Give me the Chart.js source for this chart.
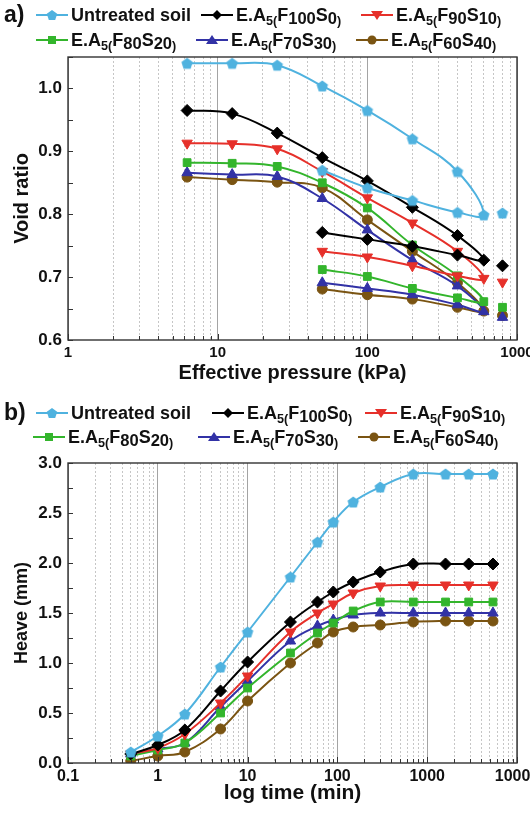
<!DOCTYPE html>
<html>
<head>
<meta charset="utf-8">
<script src="https://cdn.jsdelivr.net/npm/chart.js@4.4.0/dist/chart.umd.min.js"></script>
<style>
  body { margin: 0; background: #fff; font-family: 'Liberation Sans', Arial, sans-serif; }
  #wrap { position: relative; width: 530px; height: 817px; overflow: hidden; }
  canvas { position: absolute; left: 0; }
  .tag { position: absolute; font-weight: bold; font-size: 23px; color: #111; z-index: 2; }
  .leg { position: absolute; z-index: 2; display: flex; align-items: center; white-space: nowrap;
         font-weight: bold; font-size: 18px; color: #111; height: 22px; }
  .leg svg { margin-right: 3px; flex: none; }
  .leg sub { font-size: 70%; vertical-align: -0.28em; line-height: 0; }
  .leg sub.m { font-size: 92%; vertical-align: -0.18em; }
</style>
</head>
<body>
<div id="wrap">
  <canvas id="voidChart" width="530" height="390" style="top:0"></canvas>
  <canvas id="heaveChart" width="530" height="427" style="top:390px"></canvas>
  <div class="tag" style="left:4px;top:1px">a)</div>
  <div class="tag" style="left:4px;top:399px">b)</div>
</div>
<script>
// ---- a) void ratio vs effective pressure ----
const pressureLoad = [6.25, 12.5, 25, 50, 100, 200, 400, 600];
const pressureUnload = [400, 200, 100, 50];
const pressureLast = 800;
const pressureLabels = [1, 10, 100, 1000];
const voidLabels = [0.6, 0.7, 0.8, 0.9, 1.0];

const voidUntreatedLoad = [1.040, 1.040, 1.037, 1.004, 0.965, 0.920, 0.868, 0.799];
const voidUntreatedUnload = [0.803, 0.822, 0.842, 0.870];
const voidF100Load = [0.965, 0.960, 0.929, 0.890, 0.853, 0.811, 0.766, 0.727];
const voidF100Unload = [0.735, 0.749, 0.760, 0.771];
const voidF90Load = [0.913, 0.912, 0.904, 0.868, 0.826, 0.786, 0.741, 0.698];
const voidF90Unload = [0.702, 0.718, 0.732, 0.741];
const voidF80Load = [0.882, 0.881, 0.876, 0.850, 0.810, 0.751, 0.702, 0.661];
const voidF80Unload = [0.667, 0.682, 0.701, 0.712];
const voidF70Load = [0.866, 0.863, 0.860, 0.825, 0.775, 0.727, 0.686, 0.645];
const voidF70Unload = [0.656, 0.672, 0.682, 0.691];
const voidF60Load = [0.859, 0.855, 0.851, 0.842, 0.791, 0.741, 0.691, 0.646];
const voidF60Unload = [0.652, 0.665, 0.672, 0.681];
const voidLast = [0.802, 0.718, 0.692, 0.652, 0.636, 0.639];

// ---- b) heave vs log time ----
const timeMin = [0.5, 1, 2, 5, 10, 30, 60, 90, 150, 300, 700, 1600, 2900, 5400];
const timeLabels = [0.1, 1, 10, 100, 1000, 10000];
const heaveLabels = [0, 0.5, 1, 1.5, 2, 2.5, 3];

const heaveUntreated = [0.11, 0.27, 0.49, 0.96, 1.31, 1.86, 2.21, 2.41, 2.61, 2.76, 2.89, 2.89, 2.89, 2.89];
const heaveF100 = [0.09, 0.18, 0.33, 0.72, 1.01, 1.41, 1.61, 1.71, 1.81, 1.91, 1.99, 1.99, 1.99, 1.99];
const heaveF90 = [0.09, 0.15, 0.29, 0.60, 0.87, 1.31, 1.50, 1.59, 1.70, 1.77, 1.78, 1.78, 1.78, 1.78];
const heaveF80 = [0.07, 0.13, 0.20, 0.50, 0.75, 1.10, 1.30, 1.40, 1.52, 1.61, 1.61, 1.61, 1.61, 1.61];
const heaveF70 = [0.09, 0.14, 0.20, 0.56, 0.82, 1.22, 1.37, 1.43, 1.48, 1.50, 1.50, 1.50, 1.50, 1.50];
const heaveF60 = [0.02, 0.07, 0.11, 0.34, 0.62, 1.00, 1.20, 1.31, 1.36, 1.38, 1.41, 1.42, 1.42, 1.42];

const seriesNames = ['Untreated soil', 'E.A5(F100S0)', 'E.A5(F90S10)', 'E.A5(F80S20)', 'E.A5(F70S30)', 'E.A5(F60S40)'];
const seriesLegend = [
    'Untreated soil',
    'E.A<sub>5(</sub>F<sub class="m">100</sub>S<sub class="m">0</sub><sub>)</sub>',
    'E.A<sub>5(</sub>F<sub class="m">90</sub>S<sub class="m">10</sub><sub>)</sub>',
    'E.A<sub>5(</sub>F<sub class="m">80</sub>S<sub class="m">20</sub><sub>)</sub>',
    'E.A<sub>5(</sub>F<sub class="m">70</sub>S<sub class="m">30</sub><sub>)</sub>',
    'E.A<sub>5(</sub>F<sub class="m">60</sub>S<sub class="m">40</sub><sub>)</sub>'
];

// series styles
const seriesColors = ['#4fb2df', '#000000', '#e6302a', '#33b52c', '#3232a6', '#7a5412'];
const seriesShapes = ['pentagon', 'rectRot', 'triangleDown', 'rect', 'triangle', 'circle'];

Chart.defaults.font.family = "'Liberation Sans', Arial, sans-serif";
Chart.defaults.font.weight = 'bold';
Chart.defaults.color = '#111';

const isDecade = v => Math.abs(Math.log10(v) - Math.round(Math.log10(v))) < 1e-9;

function logTicks(decades) {
    const out = [];
    decades.forEach((d, i) => {
        if (i === decades.length - 1) { out.push(d); return; }
        for (let k = 1; k <= 9; k++) out.push(+(d * k).toPrecision(6));
    });
    return out;
}

function pentagonImage(color, r) {
    const c = document.createElement('canvas');
    c.width = c.height = 2 * r + 2;
    const g = c.getContext('2d');
    g.fillStyle = color;
    g.beginPath();
    for (let i = 0; i < 5; i++) {
        const a = -Math.PI / 2 + i * 2 * Math.PI / 5;
        const px = r + 1 + r * Math.cos(a), py = r + 1 + r * Math.sin(a) + r * 0.1;
        if (i) g.lineTo(px, py); else g.moveTo(px, py);
    }
    g.closePath();
    g.fill();
    return c;
}

function pointStyleFor(i) {
    const shape = seriesShapes[i];
    if (shape === 'pentagon') return {pointStyle: pentagonImage(seriesColors[i], 6), pointRotation: 0, pointRadius: 6};
    if (shape === 'triangleDown') return {pointStyle: 'triangle', pointRotation: 180, pointRadius: 6};
    if (shape === 'rect') return {pointStyle: 'rect', pointRotation: 0, pointRadius: 5.5};
    if (shape === 'circle') return {pointStyle: 'circle', pointRotation: 0, pointRadius: 5};
    return {pointStyle: shape, pointRotation: 0, pointRadius: 6};
}

function swatchSvg(i) {
    const c = seriesColors[i];
    let mark = '';
    const cx = 16, cy = 8;
    switch (seriesShapes[i]) {
        case 'pentagon': {
            const pts = [];
            for (let k = 0; k < 5; k++) {
                const a = -Math.PI / 2 + k * 2 * Math.PI / 5;
                pts.push((cx + 5.5 * Math.cos(a)).toFixed(1) + ',' + (cy + 0.5 + 5.5 * Math.sin(a)).toFixed(1));
            }
            mark = `<polygon points="${pts.join(' ')}" fill="${c}"/>`;
            break;
        }
        case 'rectRot': mark = `<polygon points="${cx},${cy - 5} ${cx + 5},${cy} ${cx},${cy + 5} ${cx - 5},${cy}" fill="${c}"/>`; break;
        case 'triangleDown': mark = `<polygon points="${cx - 6},${cy - 4} ${cx + 6},${cy - 4} ${cx},${cy + 5}" fill="${c}"/>`; break;
        case 'rect': mark = `<rect x="${cx - 4}" y="${cy - 4}" width="8" height="8" fill="${c}"/>`; break;
        case 'triangle': mark = `<polygon points="${cx - 6},${cy + 4} ${cx + 6},${cy + 4} ${cx},${cy - 5}" fill="${c}"/>`; break;
        default: mark = `<circle cx="${cx}" cy="${cy}" r="4.5" fill="${c}"/>`;
    }
    return `<svg width="32" height="16"><line x1="0" y1="${cy}" x2="32" y2="${cy}" stroke="${c}" stroke-width="2"/>${mark}</svg>`;
}

// legend boxes (left, top) for each panel
function addLegend(positions) {
    const wrap = document.getElementById('wrap');
    positions.forEach((p, i) => {
        const el = document.createElement('div');
        el.className = 'leg';
        el.style.left = p[0] + 'px';
        el.style.top = p[1] + 'px';
        el.innerHTML = swatchSvg(i) + '<span>' + seriesLegend[i] + '</span>';
        wrap.appendChild(el);
    });
}
addLegend([[36, 4], [201, 4], [361, 4], [36, 29], [196, 29], [356, 29]]);
addLegend([[36, 402], [212, 402], [365, 402], [33, 426], [198, 426], [358, 426]]);

// frame box plus inward tick marks on left and bottom
const frameTicks = {
    id: 'frameTicks',
    afterDraw(chart) {
        const {ctx, chartArea: a, scales: {x, y}} = chart;
        ctx.save();
        ctx.strokeStyle = '#333';
        ctx.lineWidth = 1.4;
        ctx.strokeRect(a.left, a.top, a.right - a.left, a.bottom - a.top);
        ctx.lineWidth = 1;
        ctx.beginPath();
        x.ticks.forEach(t => {
            const px = Math.round(x.getPixelForValue(t.value)) + 0.5;
            const len = isDecade(t.value) ? 6 : 4;
            ctx.moveTo(px, a.bottom);
            ctx.lineTo(px, a.bottom - len);
        });
        y.ticks.forEach(t => {
            const py = Math.round(y.getPixelForValue(t.value)) + 0.5;
            ctx.moveTo(a.left, py);
            ctx.lineTo(a.left + 5, py);
        });
        ctx.stroke();
        ctx.restore();
    }
};

function logAxis(min, max, labels, titleText, titleSize, labelSize, height, titlePad) {
    const ticksList = logTicks(labels);
    return {
        type: 'logarithmic',
        min: min,
        max: max,
        afterBuildTicks: s => { s.ticks = ticksList.map(v => ({value: v})); },
        afterFit: s => { s.height = height; s.paddingLeft = 0; s.paddingRight = 0; },
        ticks: {
            autoSkip: false,
            maxRotation: 0,
            padding: 4,
            color: '#111',
            font: {size: labelSize, weight: 'bold'},
            callback: v => labels.includes(v) ? String(v) : ''
        },
        grid: {
            drawTicks: false,
            lineWidth: 1,
            color: c => (c.tick && isDecade(c.tick.value)) ? '#a4a4a4' : '#c6c6c6'
        },
        border: {
            display: false,
            dash: c => (c.tick && !isDecade(c.tick.value)) ? [2, 2] : []
        },
        title: {
            display: true,
            text: titleText,
            color: '#111',
            font: {size: titleSize, weight: 'bold'},
            padding: {top: 0, bottom: titlePad}
        }
    };
}

function valueAxis(min, max, step, labels, titleText, titleSize, titlePad) {
    return {
        min: min,
        max: max,
        afterFit: s => { s.width = 68; s.paddingTop = 0; s.paddingBottom = 0; },
        ticks: {
            stepSize: step,
            padding: 6,
            color: '#111',
            font: {size: 17, weight: 'bold'},
            callback: v => labels.some(l => Math.abs(l - v) < 1e-6) ? v.toFixed(1) : ''
        },
        grid: {display: false, drawTicks: false},
        border: {display: false},
        title: {
            display: true,
            text: titleText,
            color: '#111',
            font: {size: titleSize, weight: 'bold'},
            padding: {top: titlePad, bottom: 0}
        }
    };
}

function baseOptions(padding, xAxis, yAxis) {
    return {
        responsive: false,
        animation: false,
        layout: {autoPadding: false, padding: padding},
        plugins: {legend: {display: false}, tooltip: {enabled: false}},
        elements: {line: {borderWidth: 2, tension: 0.4}},
        scales: {x: xAxis, y: yAxis}
    };
}

// void ratio curves: loading path then unloading path, last marker on its own
const voidLoad = [voidUntreatedLoad, voidF100Load, voidF90Load, voidF80Load, voidF70Load, voidF60Load];
const voidUnload = [voidUntreatedUnload, voidF100Unload, voidF90Unload, voidF80Unload, voidF70Unload, voidF60Unload];

const voidDatasets = [];
seriesNames.forEach((name, i) => {
    const pts = pressureLoad.map((p, k) => ({x: p, y: voidLoad[i][k]}));
    pressureUnload.forEach((p, k) => pts.push({x: p, y: voidUnload[i][k]}));
    voidDatasets.push(Object.assign({
        label: name,
        data: pts,
        borderColor: seriesColors[i],
        backgroundColor: seriesColors[i],
        fill: false
    }, pointStyleFor(i)));
});
seriesNames.forEach((name, i) => {
    voidDatasets.push(Object.assign({
        label: name + ' (800 kPa)',
        data: [{x: pressureLast, y: voidLast[i]}],
        showLine: false,
        borderColor: seriesColors[i],
        backgroundColor: seriesColors[i]
    }, pointStyleFor(i)));
});

new Chart(document.getElementById('voidChart'), {
    type: 'line',
    data: {datasets: voidDatasets},
    options: baseOptions(
        {top: 57, right: 13, left: 0, bottom: 0},
        logAxis(1, 1000, pressureLabels, 'Effective pressure (kPa)', 20, 15, 50, 5),
        valueAxis(0.6, 1.05, 0.05, voidLabels, 'Void ratio', 20, 10)
    ),
    plugins: [frameTicks]
});

// heave curves
const heaveSeries = [heaveUntreated, heaveF100, heaveF90, heaveF80, heaveF70, heaveF60];
const heaveDatasets = seriesNames.map((name, i) => Object.assign({
    label: name,
    data: timeMin.map((t, k) => ({x: t, y: heaveSeries[i][k]})),
    borderColor: seriesColors[i],
    backgroundColor: seriesColors[i],
    fill: false
}, pointStyleFor(i)));

new Chart(document.getElementById('heaveChart'), {
    type: 'line',
    data: {datasets: heaveDatasets},
    options: baseOptions(
        {top: 73, right: 13, left: 0, bottom: 0},
        logAxis(0.1, 10000, timeLabels, 'log time (min)', 21, 16, 54, 11),
        valueAxis(0, 3, 0.25, heaveLabels, 'Heave (mm)', 18, 11)
    ),
    plugins: [frameTicks]
});
</script>
</body>
</html>
